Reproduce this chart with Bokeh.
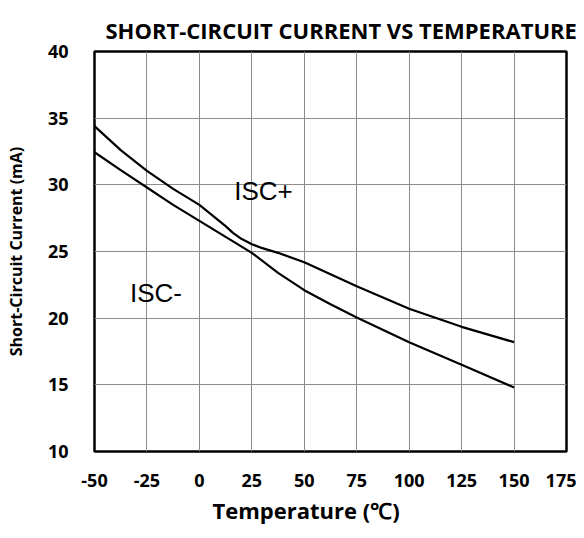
from bokeh.plotting import figure
from bokeh.models import Range1d, FixedTicker, Label, Title
from bokeh.embed import file_html
from bokeh.resources import INLINE

temps_plus = [-50, -37.5, -25, -12.5, 0, 12.5, 16, 20, 25, 30, 37.5, 50, 62.5, 75, 100, 125, 150]
isc_plus = [34.4, 32.6, 31.05, 29.7, 28.5, 26.9, 26.4, 25.95, 25.55, 25.25, 24.9, 24.2, 23.3, 22.4, 20.7, 19.35, 18.2]
temps_minus = [-50, -37.5, -25, -12.5, 0, 12.5, 25, 37.5, 50, 62.5, 75, 100, 125, 150]
isc_minus = [32.45, 31.1, 29.8, 28.5, 27.3, 26.1, 24.9, 23.4, 22.1, 21.05, 20.05, 18.2, 16.5, 14.8]
x_ticks = [-50, -25, 0, 25, 50, 75, 100, 125, 150, 175]
x_tick_labels = ["-50", "-25", "0", "25", "50", "75", "100", "125", "150", "175"]
y_ticks = [10, 15, 20, 25, 30, 35, 40]

FONT = "Open Sans"

p = figure(width=576, height=538, output_backend="svg", toolbar_location=None,
           x_range=Range1d(-50, 175), y_range=Range1d(10, 40),
           min_border_left=94, min_border_right=10, min_border_top=51, min_border_bottom=87)

p.title = Title(text="SHORT-CIRCUIT CURRENT VS TEMPERATURE", align="left", offset=11,
                vertical_align="top", text_font=FONT, text_font_style="bold",
                text_font_size="22px", text_color="black", standoff=10)

p.xaxis.ticker = FixedTicker(ticks=x_ticks)
p.xaxis.major_label_overrides = {t: s for t, s in zip(x_ticks, x_tick_labels)}
p.yaxis.ticker = FixedTicker(ticks=y_ticks)
for ax in (p.xaxis, p.yaxis):
    ax.axis_line_color = None
    ax.major_tick_line_color = None
    ax.minor_tick_line_color = None
    ax.major_label_text_font = FONT
    ax.major_label_text_font_style = "bold"
    ax.major_label_text_font_size = "18px"
    ax.major_label_text_color = "black"
    ax.axis_label_text_font = FONT
    ax.axis_label_text_font_style = "bold"
    ax.axis_label_text_color = "black"
p.yaxis.axis_label = "Short-Circuit Current (mA)"
p.yaxis.axis_label_text_font_size = "16px"
p.xaxis.major_label_standoff = 16
p.yaxis.major_label_standoff = 20
p.yaxis.axis_label_standoff = 18

# x-axis title, placed off-centre as in the original
p.add_layout(Title(text="Temperature (℃)", align="left", offset=118, vertical_align="top",
                   standoff=10, text_font=FONT, text_font_style="bold",
                   text_font_size="22px", text_color="black"), "below")

p.grid.grid_line_color = "#8c8c8c"
p.grid.grid_line_width = 1
p.outline_line_color = "black"
p.outline_line_width = 2.5
p.background_fill_color = "white"
p.border_fill_color = "white"

p.line(temps_plus, isc_plus, line_color="black", line_width=2.2)
p.line(temps_minus, isc_minus, line_color="black", line_width=2.2)

p.add_layout(Label(x=16.6, y=28.4, text="ISC+", text_font="Liberation Sans",
                   text_font_size="26px", text_color="black"))
p.add_layout(Label(x=-33.1, y=20.75, text="ISC-", text_font="Liberation Sans",
                   text_font_size="26px", text_color="black"))

open("out.html", "w").write(file_html(p, INLINE))
